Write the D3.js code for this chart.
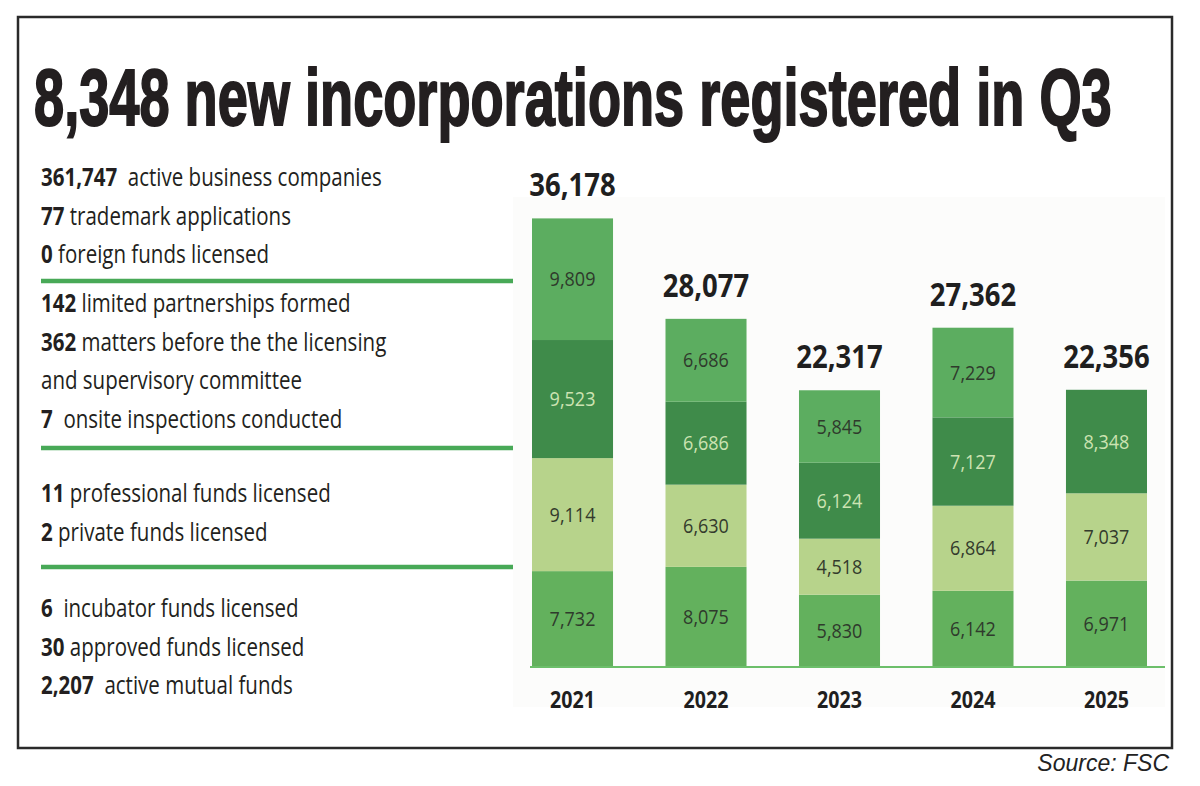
<!DOCTYPE html>
<html>
<head>
<meta charset="utf-8">
<script src="https://cdn.jsdelivr.net/npm/d3@7"></script>
<style>
  html, body { margin: 0; padding: 0; background: #ffffff; }
  svg { display: block; }
  text { white-space: pre; }
</style>
</head>
<body>
<svg id="chart" width="1200" height="786"></svg>
<script>
// ---------- DATA ----------
const titleText = "8,348 new incorporations registered in Q3";
const sourceText = "Source: FSC";

const years = ["2021", "2022", "2023", "2024", "2025"];
const seriesBottom = [7732, 8075, 5830, 6142, 6971];   // medium green (bottom)
const seriesLight  = [9114, 6630, 4518, 6864, 7037];   // light olive
const seriesDark   = [9523, 6686, 6124, 7127, 8348];   // dark green
const seriesTop    = [9809, 6686, 5845, 7229, 0];      // medium green (top)
const totals       = [36178, 28077, 22317, 27362, 22356];

const statGroup1Numbers = ["361,747", "77", "0"];
const statGroup1Labels  = ["  active business companies", " trademark applications", " foreign funds licensed"];
const statGroup2Numbers = ["142", "362", "", "7"];
const statGroup2Labels  = [" limited partnerships formed", " matters before the the licensing", "and supervisory committee", "  onsite inspections conducted"];
const statGroup3Numbers = ["11", "2"];
const statGroup3Labels  = [" professional funds licensed", " private funds licensed"];
const statGroup4Numbers = ["6", "30", "2,207"];
const statGroup4Labels  = ["  incubator funds licensed", " approved funds licensed", "  active mutual funds"];

// ---------- LAYOUT ----------
const svg = d3.select("#chart");

// frame
svg.append("rect")
  .attr("x", 18).attr("y", 17).attr("width", 1154).attr("height", 731)
  .attr("fill", "none").attr("stroke", "#2a2a2a").attr("stroke-width", 2.5);

// title (condensed by horizontal scaling to the reference width)
const titleG = svg.append("g");
const title = titleG.append("text")
  .attr("x", 0).attr("y", 0)
  .attr("font-family", "'Liberation Sans', Arial, sans-serif")
  .attr("font-weight", 700).attr("font-size", 79)
  .attr("fill", "#231f20").attr("stroke", "#231f20").attr("stroke-width", 2)
  .text(titleText);
const titleNatural = title.node().getComputedTextLength();
titleG.attr("transform", `translate(34,125) scale(${1078 / titleNatural},1)`);

// source
svg.append("text")
  .attr("x", 1169).attr("y", 771).attr("text-anchor", "end")
  .attr("font-family", "'Liberation Sans', Arial, sans-serif")
  .attr("font-style", "italic").attr("font-size", 23)
  .attr("fill", "#222").text(sourceText);

// ---------- LEFT STATS ----------
const groups = [
  { nums: statGroup1Numbers, labels: statGroup1Labels, y0: 186 },
  { nums: statGroup2Numbers, labels: statGroup2Labels, y0: 312 },
  { nums: statGroup3Numbers, labels: statGroup3Labels, y0: 502 },
  { nums: statGroup4Numbers, labels: statGroup4Labels, y0: 617 }
];
const separatorsY = [281, 448, 567];
const lineStep = 38.6;
const leftX = 41, sx = 0.82;

const statsG = svg.append("g").attr("transform", `translate(${leftX},0) scale(${sx},1)`);
groups.forEach(g => {
  g.labels.forEach((lab, i) => {
    const t = statsG.append("text")
      .attr("x", 0).attr("y", g.y0 + i * lineStep)
      .attr("font-family", "'Open Sans', 'Noto Sans', sans-serif")
      .attr("font-size", 25).attr("fill", "#231f20");
    if (g.nums[i]) t.append("tspan").attr("font-weight", 700).text(g.nums[i]);
    t.append("tspan").attr("font-weight", 400).text(lab);
  });
});

svg.selectAll("line.sep").data(separatorsY).enter().append("line")
  .attr("class", "sep")
  .attr("x1", 41).attr("x2", 513)
  .attr("y1", d => d).attr("y2", d => d)
  .attr("stroke", "#48a957").attr("stroke-width", 4.5);

// ---------- BAR CHART ----------
svg.append("rect")
  .attr("x", 513).attr("y", 197).attr("width", 652).attr("height", 510)
  .attr("fill", "#fcfcfb");

const baseY = 667;
const x = d3.scaleBand().domain(years).range([532, 1147]).paddingInner(0.393).paddingOuter(0);
const y = d3.scaleLinear().domain([0, 40000]).range([baseY, baseY - 496]);

const keys = ["bottom", "light", "dark", "top"];
const colors = { bottom: "#63b15d", light: "#b7d38b", dark: "#3f8b4a", top: "#5cad60" };
const labelColors = { bottom: "#2f3a2c", light: "#333a2c", dark: "#cde3b2", top: "#2f3a2c" };

const table = years.map((yr, i) => ({
  year: yr, bottom: seriesBottom[i], light: seriesLight[i], dark: seriesDark[i], top: seriesTop[i], total: totals[i]
}));
const stacked = d3.stack().keys(keys)(table);

const layers = svg.append("g").selectAll("g.layer").data(stacked).enter().append("g")
  .attr("class", "layer").attr("fill", d => colors[d.key]);

layers.selectAll("rect").data(d => d.filter(s => s[1] - s[0] > 0)).enter().append("rect")
  .attr("x", d => x(d.data.year))
  .attr("width", x.bandwidth())
  .attr("y", d => y(d[1]))
  .attr("height", d => y(d[0]) - y(d[1]));

// segment labels
stacked.forEach(layer => {
  layer.filter(s => s[1] - s[0] > 0).forEach(s => {
    const cx = x(s.data.year) + x.bandwidth() / 2;
    const cy = (y(s[0]) + y(s[1])) / 2 + 7;
    svg.append("text")
      .attr("transform", `translate(${cx},${cy}) scale(0.9,1)`)
      .attr("text-anchor", "middle")
      .attr("font-family", "'Open Sans', 'Noto Sans', sans-serif")
      .attr("font-size", 20)
      .attr("fill", labelColors[layer.key])
      .text(d3.format(",")(s[1] - s[0]));
  });
});

// totals
svg.append("g").selectAll("text").data(table).enter().append("text")
  .attr("transform", d => `translate(${x(d.year) + x.bandwidth() / 2},${y(d.total) - 22}) scale(0.86,1)`)
  .attr("text-anchor", "middle")
  .attr("font-family", "'Open Sans', 'Noto Sans', sans-serif")
  .attr("font-weight", 700).attr("font-size", 32)
  .attr("fill", "#1f1f1f")
  .text(d => d3.format(",")(d.total));

// baseline axis
const xAxis = d3.axisBottom(x).tickSize(0).tickPadding(0);
const axisG = svg.append("g").attr("transform", `translate(0,${baseY})`).call(xAxis);
axisG.select(".domain").remove();
svg.append("line")
  .attr("x1", 530).attr("x2", 1165).attr("y1", baseY).attr("y2", baseY)
  .attr("stroke", "#6cbf6a").attr("stroke-width", 2);
axisG.selectAll(".tick text")
  .attr("y", 0).attr("dy", 0)
  .attr("transform", "translate(0,41) scale(0.82,1)")
  .attr("font-family", "'Open Sans', 'Noto Sans', sans-serif")
  .attr("font-weight", 700).attr("font-size", 24)
  .attr("fill", "#1f1f1f");
</script>
</body>
</html>
